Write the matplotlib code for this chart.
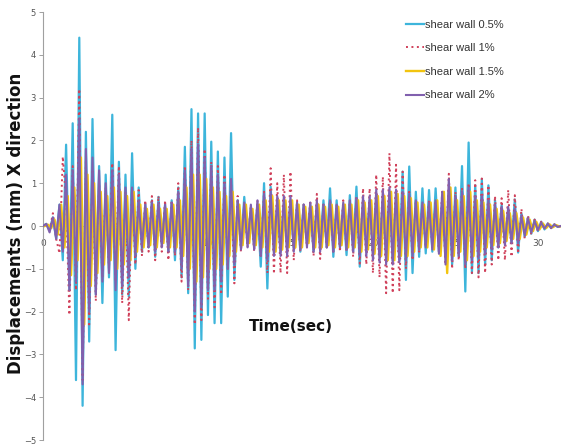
import numpy as np
import matplotlib
matplotlib.use("Agg")
import matplotlib.pyplot as plt

DT = 0.2  # sampling step of the read-off values (s)

wall_05 = [0.0, 0.05, -0.1, 0.2, -0.3, 0.5, -0.8, 1.9, -1.5, 2.4,
           -3.6, 4.4, -4.2, 2.2, -2.7, 2.5, -1.6, 1.4, -1.8, 1.2,
           -1.2, 2.6, -2.9, 1.5, -1.6, 1.2, -1.65, 1.7, -1.0, 0.9,
           -0.6, 0.5, -0.5, 0.6, -0.72, 0.68, -0.4, 0.5, -0.6, 0.6,
           -0.8, 0.9, -1.2, 1.85, -1.57, 2.73, -2.86, 2.63, -2.66, 2.63,
           -2.08, 1.97, -2.27, 1.74, -2.27, 1.6, -1.65, 2.17, -1.26, 0.6,
           -0.5, 0.68, -0.4, 0.4, -0.48, 0.5, -0.95, 1.0, -1.46, 0.92,
           -0.6, 0.5, -0.6, 0.5, -0.5, 0.6, -0.5, 0.5, -0.6, 0.5,
           -0.4, 0.5, -0.6, 0.5, -0.5, 0.6, -0.5, 0.88, -0.72, 0.6,
           -0.5, 0.5, -0.68, 0.72, -0.6, 0.92, -0.95, 0.6, -0.5, 0.6,
           -0.6, 0.7, -0.6, 0.6, -0.7, 0.8, -0.8, 0.7, -0.8, 1.27,
           -1.26, 1.39, -1.1, 0.8, -0.72, 0.88, -0.64, 0.84, -0.6, 0.88,
           -0.6, 0.6, -0.7, 0.8, -0.9, 0.9, -0.72, 1.4, -1.53, 1.95,
           -1.1, 0.95, -1.1, 1.1, -0.9, 0.95, -0.8, 0.6, -0.5, 0.5,
           -0.4, 0.4, -0.4, 0.62, -0.62, 0.3, -0.25, 0.2, -0.18, 0.15,
           -0.12, 0.1, -0.08, 0.06, -0.05, 0.04, -0.02, 0.0]

wall_1 = [0.0, 0.05, -0.1, 0.3, -0.3, -0.64, 1.62, 0.6, -2.08, 1.4,
          -1.5, 3.2, -3.6, 1.5, -2.3, 1.33, -1.75, 1.0, -1.2, 0.9,
          -1.0, 1.47, -1.3, 1.4, -1.8, 0.8, -2.2, 0.9, -0.9, 0.84,
          -0.7, 0.6, -0.6, 0.7, -0.8, 0.7, -0.6, 0.6, -0.8, 0.6,
          -0.7, 1.0, -1.3, 1.4, -1.5, 2.0, -2.3, 2.3, -2.2, 1.8,
          -1.7, 1.5, -1.9, 1.4, -1.6, 1.2, -1.0, 1.0, -1.34, 0.7,
          -0.6, 0.5, -0.5, 0.5, -0.6, 0.6, -0.7, 0.8, -1.1, 1.35,
          -1.12, 1.0, -1.1, 1.2, -1.1, 1.27, -0.8, 0.6, -0.6, 0.5,
          -0.5, 0.6, -0.7, 0.75, -0.77, 0.5, -0.5, 0.6, -0.6, 0.5,
          -0.6, 0.6, -0.6, 0.6, -0.72, 0.7, -0.88, 0.88, -0.9, 0.88,
          -1.1, 1.2, -1.2, 1.15, -1.57, 1.7, -1.57, 1.43, -1.5, 1.27,
          -1.0, 0.8, -0.8, 0.6, -0.6, 0.5, -0.5, 0.6, -0.5, 0.6,
          -0.6, 0.8, -0.9, 1.22, -1.0, 0.8, -0.8, 0.9, -1.0, 1.0,
          -1.1, 1.07, -1.2, 1.11, -1.1, 0.95, -0.9, 0.7, -0.8, 0.65,
          -0.8, 0.84, -0.72, 0.72, -0.64, 0.4, -0.3, 0.25, -0.2, 0.15,
          -0.12, 0.1, -0.08, 0.06, -0.05, 0.04, -0.02, 0.0]

wall_15 = [0.0, 0.03, -0.05, 0.15, -0.2, 0.5, -0.5, 0.7, -1.15, 0.9,
           -0.8, 1.6, -2.3, 1.2, -1.4, 1.0, -1.1, 0.8, -0.9, 0.7,
           -0.8, 0.9, -1.0, 0.8, -0.9, 0.7, -0.8, 0.8, -0.6, 0.5,
           -0.5, 0.4, -0.45, 0.5, -0.5, 0.4, -0.4, 0.4, -0.5, 0.5,
           -0.5, 0.6, -0.7, 0.9, -1.0, 1.2, -1.3, 1.2, -1.2, 1.1,
           -1.0, 0.9, -1.0, 0.8, -0.9, 0.7, -0.7, 0.8, -0.6, 0.5,
           -0.45, 0.5, -0.4, 0.4, -0.45, 0.5, -0.5, 0.6, -0.6, 0.7,
           -0.6, 0.6, -0.55, 0.6, -0.5, 0.6, -0.5, 0.5, -0.5, 0.45,
           -0.4, 0.45, -0.5, 0.5, -0.5, 0.45, -0.45, 0.5, -0.5, 0.45,
           -0.45, 0.5, -0.5, 0.5, -0.5, 0.6, -0.6, 0.55, -0.55, 0.6,
           -0.65, 0.7, -0.7, 0.7, -0.8, 0.8, -0.8, 0.75, -0.7, 0.7,
           -0.7, 0.65, -0.6, 0.55, -0.5, 0.5, -0.5, 0.55, -0.55, 0.6,
           -0.7, 0.8, -1.1, 0.9, -0.7, 0.6, -0.6, 0.7, -0.8, 0.8,
           -0.7, 0.6, -0.6, 0.55, -0.5, 0.5, -0.45, 0.4, -0.4, 0.35,
           -0.35, 0.3, -0.3, 0.3, -0.3, 0.2, -0.2, 0.15, -0.12, 0.1,
           -0.08, 0.06, -0.05, 0.04, -0.03, 0.02, -0.01, 0.0]

wall_2 = [0.0, 0.05, -0.15, 0.2, -0.3, 0.5, -0.6, 1.2, -1.5, 1.3,
          -1.3, 2.5, -3.7, 1.8, -2.0, 1.6, -1.6, 1.3, -1.3, 1.0,
          -1.1, 1.3, -1.5, 1.2, -1.4, 0.9, -1.2, 0.9, -0.7, 0.6,
          -0.5, 0.5, -0.5, 0.55, -0.6, 0.55, -0.5, 0.5, -0.6, 0.55,
          -0.6, 0.8, -1.0, 1.3, -1.4, 1.8, -2.0, 1.9, -1.9, 1.6,
          -1.5, 1.4, -1.5, 1.2, -1.3, 1.0, -1.0, 1.1, -0.9, 0.6,
          -0.55, 0.55, -0.5, 0.5, -0.55, 0.6, -0.7, 0.75, -0.8, 0.8,
          -0.7, 0.7, -0.7, 0.7, -0.7, 0.7, -0.6, 0.55, -0.55, 0.5,
          -0.5, 0.55, -0.6, 0.6, -0.6, 0.5, -0.5, 0.6, -0.6, 0.5,
          -0.5, 0.55, -0.55, 0.6, -0.6, 0.65, -0.7, 0.7, -0.7, 0.7,
          -0.8, 0.85, -0.85, 0.85, -0.9, 0.9, -0.9, 0.85, -0.85, 0.8,
          -0.8, 0.75, -0.7, 0.6, -0.55, 0.55, -0.5, 0.55, -0.55, 0.6,
          -0.65, 0.8, -0.9, 1.1, -0.8, 0.7, -0.7, 0.8, -0.9, 0.9,
          -0.8, 0.7, -0.75, 0.7, -0.65, 0.6, -0.55, 0.5, -0.5, 0.45,
          -0.45, 0.45, -0.4, 0.4, -0.4, 0.25, -0.22, 0.18, -0.15, 0.12,
          -0.1, 0.08, -0.06, 0.05, -0.04, 0.03, -0.02, 0.0]

labels = ["shear wall 0.5%", "shear wall 1%", "shear wall 1.5%", "shear wall 2%"]
x_ticks = [0, 5, 10, 15, 20, 25, 30]
y_ticks = [-5, -4, -3, -2, -1, 0, 1, 2, 3, 4, 5]

# first sample time of each record (s); the 1.5% record is read half a step later
T0_15 = 0.1

fig = plt.figure(figsize=(5.61, 4.46), dpi=100)
ax = fig.add_axes([43 / 561, 6 / 446, 518 / 561, 428 / 446])

def times(vals, t0=0.0):
    return t0 + np.arange(len(vals)) * DT

h1, = ax.plot(times(wall_05), wall_05, color="#3DB5DB", lw=1.6, zorder=1, label=labels[0])
h2, = ax.plot(times(wall_1), wall_1, color="#D0405A", lw=1.4, ls=(0, (1, 1.8)), zorder=2, label=labels[1])
h3, = ax.plot(times(wall_15, T0_15), wall_15, color="#F2C40F", lw=1.7, zorder=3, label=labels[2])
h4, = ax.plot(times(wall_2), wall_2, color="#8160AE", lw=1.5, zorder=4, label=labels[3])

ax.set_xlim(0, 31.4)
ax.set_ylim(-5, 5)
ax.set_yticks(y_ticks)
ax.set_xticks(x_ticks)

for s in ["top", "right"]:
    ax.spines[s].set_visible(False)
ax.spines["left"].set_color("#A0A0A0")
ax.spines["left"].set_linewidth(0.8)
ax.spines["bottom"].set_position(("data", 0))
ax.spines["bottom"].set_color("#A0A0A0")
ax.spines["bottom"].set_linewidth(0.6)
ax.spines["bottom"].set_zorder(0)

ax.tick_params(axis="y", direction="out", length=3, width=0.7, color="#A0A0A0",
               labelsize=6, labelcolor="#555555", pad=2)
ax.tick_params(axis="x", length=0, labelsize=6.5, labelcolor="#555555", pad=9)

ax.text(15, -2.34, "Time(sec)", fontsize=11, fontweight="bold", ha="center", va="center",
        color="#111111", family=["DejaVu Sans"])
fig.text(16 / 561, 0.5, "Displacements (mm) X direction", rotation=90, fontsize=12,
         fontweight="bold", ha="center", va="center", color="#111111")

leg = ax.legend(handles=[h1, h2, h3, h4], loc="upper left",
                bbox_to_anchor=(398 / 561, 1 - 12 / 446), bbox_transform=fig.transFigure,
                frameon=False, handlelength=1.6, handletextpad=0.15,
                labelspacing=1.22, borderpad=0.2,
                prop={"family": ["Liberation Sans", "DejaVu Sans"], "size": 8})
for t in leg.get_texts():
    t.set_color("#333333")

fig.savefig("out.png", dpi=100)
